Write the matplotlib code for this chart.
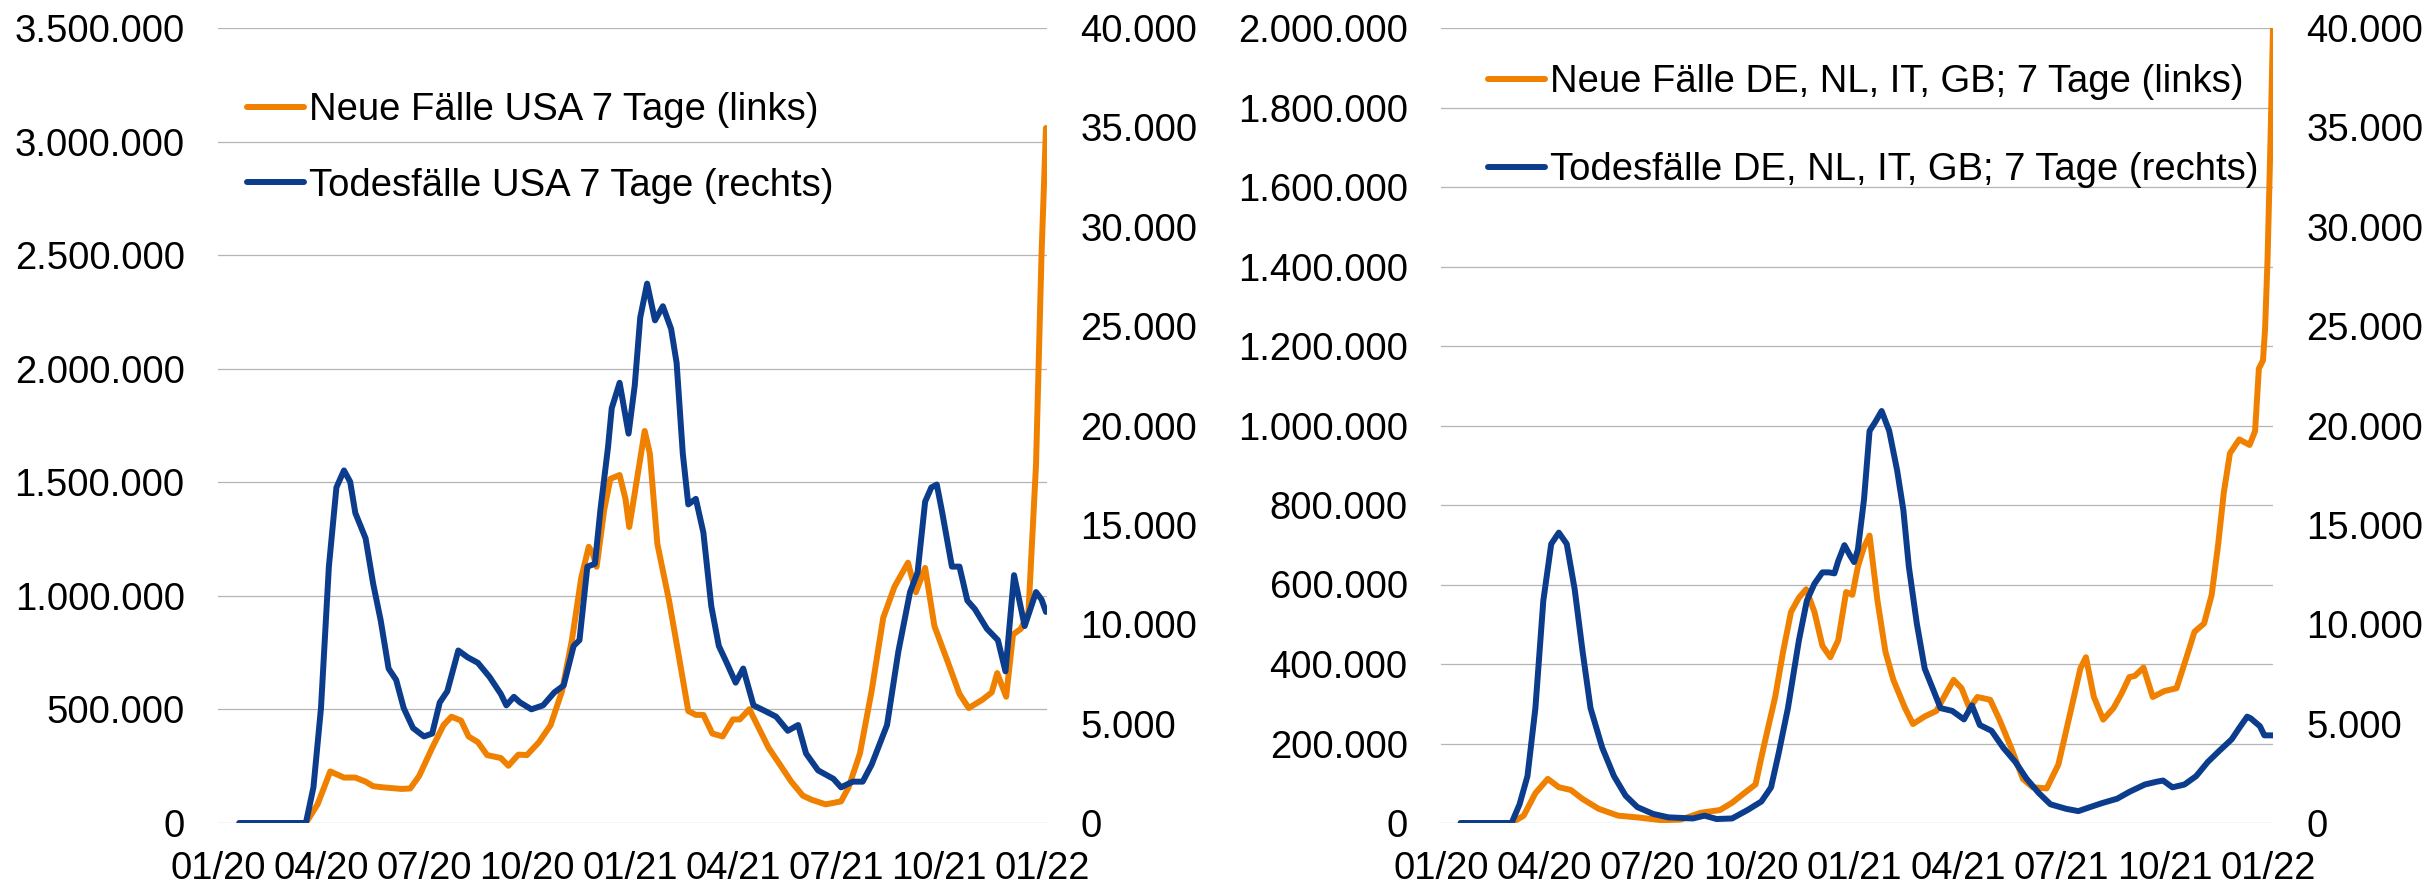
import matplotlib
matplotlib.use("Agg")
from matplotlib import pyplot as plt
from matplotlib.ticker import FuncFormatter, MultipleLocator

plt.rcParams['font.family'] = ['Liberation Sans', 'DejaVu Sans']

# x: Monate seit 01/2020
month_ticks = [0, 3, 6, 9, 12, 15, 18, 21, 24]
month_labels = ["01/20", "04/20", "07/20", "10/20", "01/21", "04/21", "07/21", "10/21", "01/22"]

# USA: neue Fälle 7 Tage (linke Achse)
us_cases_x = [0.62, 2.56, 2.9, 3.27, 3.67, 4.0, 4.3, 4.52, 4.8, 5.35, 5.6, 5.86, 6.24, 6.57, 6.8,
              7.08, 7.3, 7.57, 7.84, 8.24, 8.46, 8.75, 9.0, 9.35, 9.69, 10.02, 10.31, 10.58, 10.8,
              10.91, 11.03, 11.25, 11.43, 11.7, 11.87, 11.98, 12.14, 12.43, 12.58, 12.8, 13.14, 13.43,
              13.7, 13.92, 14.14, 14.4, 14.7, 15.0, 15.2, 15.48, 15.75, 16.04, 16.37, 16.7, 17.04,
              17.3, 17.7, 18.15, 18.37, 18.7, 19.04, 19.38, 19.71, 20.1, 20.33, 20.6, 20.87, 21.27,
              21.6, 21.87, 22.27, 22.54, 22.7, 22.96, 23.16, 23.39, 23.61, 23.83, 23.99, 24.12]
us_cases = [0, 0, 82e3, 227e3, 200e3, 200e3, 182e3, 162e3, 157e3, 150e3, 152e3, 207e3, 331e3, 431e3, 468e3,
            451e3, 381e3, 356e3, 299e3, 286e3, 252e3, 301e3, 299e3, 356e3, 431e3, 580e3, 805e3, 1078e3, 1216e3,
            1190e3, 1128e3, 1378e3, 1515e3, 1532e3, 1427e3, 1303e3, 1452e3, 1726e3, 1627e3, 1228e3, 979e3, 730e3,
            493e3, 476e3, 476e3, 394e3, 381e3, 456e3, 456e3, 501e3, 419e3, 331e3, 257e3, 182e3, 120e3,
            102e3, 82e3, 95e3, 157e3, 306e3, 580e3, 904e3, 1041e3, 1146e3, 1016e3, 1123e3, 867e3, 705e3,
            568e3, 506e3, 543e3, 575e3, 660e3, 556e3, 830e3, 855e3, 929e3, 1577e3, 2500e3, 3060e3]

# USA: Todesfälle 7 Tage (rechte Achse)
us_deaths_x = [0.62, 2.56, 2.78, 3.0, 3.23, 3.45, 3.67, 3.85, 4.0, 4.3, 4.52, 4.74, 4.97, 5.19, 5.41,
               5.68, 6.0, 6.24, 6.46, 6.68, 7.0, 7.27, 7.57, 7.91, 8.24, 8.4, 8.62, 8.8, 9.13, 9.47,
               9.8, 10.07, 10.36, 10.53, 10.76, 10.98, 11.14, 11.36, 11.47, 11.7, 11.96, 12.14, 12.3,
               12.5, 12.73, 12.96, 13.2, 13.36, 13.54, 13.7, 13.92, 14.14, 14.37, 14.59, 14.82, 15.08,
               15.3, 15.6, 15.93, 16.26, 16.6, 16.9, 17.13, 17.48, 17.93, 18.15, 18.49, 18.78, 19.04,
               19.49, 19.82, 20.16, 20.38, 20.6, 20.78, 20.94, 21.1, 21.38, 21.6, 21.83, 22.05, 22.4,
               22.72, 22.94, 23.19, 23.5, 23.83, 23.99, 24.12]
us_deaths = [0, 0, 1794, 5780, 12900, 16885, 17740, 17170, 15600, 14320, 12040, 10190, 7770, 7200, 5780,
             4780, 4355, 4500, 6065, 6630, 8680, 8340, 8060, 7350, 6490, 5920, 6350, 6065, 5720, 5920,
             6575, 6920, 8910, 9200, 12900, 13040, 15750, 18880, 20870, 22150, 19590, 22010, 25430,
             27140, 25290, 26000, 24860, 23150, 18590, 16030, 16310, 14610, 10910, 8910, 8060, 7060,
             7770, 5920, 5640, 5350, 4640, 4930, 3500, 2650, 2220, 1794, 2080, 2080, 2930,
             4930, 8630, 11620, 12610, 16170, 16880, 17030, 15600, 12900, 12900, 11190, 10760, 9770,
             9200, 7630, 12470, 9910, 11620, 11250, 10620]

# DE, NL, IT, GB: neue Fälle 7 Tage (linke Achse)
eu_cases_x = [0.57, 2.05, 2.4, 2.74, 3.1, 3.42, 3.77, 4.1, 4.57, 5.14, 5.71, 6.4, 6.96, 7.53, 8.1,
              8.45, 8.8, 9.13, 9.36, 9.7, 9.93, 10.16, 10.39, 10.6, 10.84, 11.07, 11.3, 11.53, 11.76,
              11.94, 12.1, 12.28, 12.44, 12.67, 12.9, 13.13, 13.47, 13.7, 14.04, 14.38, 14.6, 14.88,
              15.11, 15.34, 15.57, 15.94, 16.21, 16.55, 16.89, 17.17, 17.58, 17.92, 18.26, 18.56,
              18.72, 18.95, 19.22, 19.52, 19.75, 19.98, 20.14, 20.39, 20.66, 21.0, 21.35, 21.64,
              21.87, 22.15, 22.37, 22.56, 22.72, 22.9, 23.17, 23.47, 23.63, 23.74, 23.86, 23.92,
              23.99, 24.08, 24.15]
eu_cases = [0, 0, 18.5e3, 75e3, 111e3, 90e3, 83e3, 61e3, 36e3, 18.5e3, 14e3, 7e3, 8.5e3, 25.6e3, 32.7e3,
            51e3, 75e3, 97e3, 189e3, 317e3, 431e3, 531e3, 567e3, 588e3, 531e3, 446e3, 417e3, 460e3, 581e3,
            574e3, 645e3, 695e3, 723e3, 559e3, 431e3, 360e3, 289e3, 249e3, 268e3, 282e3, 317e3, 360e3,
            339e3, 289e3, 317e3, 310e3, 260e3, 189e3, 111e3, 90e3, 87e3, 147e3, 275e3, 389e3,
            417e3, 317e3, 260e3, 289e3, 325e3, 367e3, 370e3, 391e3, 317e3, 332e3, 339e3, 417e3,
            481e3, 502e3, 574e3, 702e3, 830e3, 930e3, 965e3, 951e3, 986e3, 1143e3, 1164e3, 1243e3,
            1413e3, 1726e3, 2000e3]

# DE, NL, IT, GB: Todesfälle 7 Tage (rechte Achse)
eu_deaths_x = [0.57, 2.05, 2.28, 2.51, 2.74, 2.97, 3.2, 3.42, 3.65, 3.88, 4.11, 4.34, 4.68, 5.02,
               5.36, 5.7, 6.16, 6.6, 7.31, 7.65, 8.0, 8.45, 8.9, 9.3, 9.58, 9.8, 10.07, 10.39, 10.62,
               10.84, 11.07, 11.26, 11.42, 11.53, 11.71, 11.87, 11.99, 12.1, 12.28, 12.44, 12.6, 12.79,
               13.01, 13.24, 13.42, 13.58, 13.81, 14.04, 14.27, 14.5, 14.84, 15.18, 15.41, 15.64,
               15.98, 16.32, 16.67, 17.0, 17.35, 17.69, 18.15, 18.5, 18.84, 19.18, 19.63, 19.98,
               20.43, 20.78, 20.96, 21.23, 21.58, 21.92, 22.26, 22.6, 22.95, 23.17, 23.4, 23.5,
               23.77, 23.9, 24.15]
eu_deaths = [0, 0, 940, 2360, 5780, 11190, 14040, 14610, 14040, 11760, 8630, 5780, 3790, 2360,
             1370, 800, 456, 285, 228, 370, 200, 228, 655, 1082, 1794, 3500, 5780, 9200, 11190,
             12040, 12610, 12610, 12560, 13180, 13980, 13470, 13130, 13750, 16310, 19730, 20160, 20730,
             19730, 17740, 15750, 12900, 10050, 7770, 6780, 5780, 5640, 5210, 5920, 4930,
             4640, 3790, 3075, 2220, 1510, 940, 712, 598, 800, 997, 1225, 1566,
             1936, 2080, 2136, 1794, 1936, 2360, 3075, 3645, 4210, 4780, 5350, 5270,
             4870, 4410, 4410]

orange = "#F08000"
blue = "#0C3C8C"
fs = 27.5


def thousands(v, pos):
    return "{:,}".format(int(round(v))).replace(",", ".")


fig = plt.figure(figsize=(24.27, 8.89), dpi=100)

panels = [
    ([218, 1047], us_cases_x, us_cases, us_deaths_x, us_deaths, 3500000, 500000,
     ["Neue Fälle USA 7 Tage (links)", "Todesfälle USA 7 Tage (rechts)"], (247, 92), 1.04),
    ([1441, 2273], eu_cases_x, eu_cases, eu_deaths_x, eu_deaths, 2000000, 200000,
     ["Neue Fälle DE, NL, IT, GB; 7 Tage (links)", "Todesfälle DE, NL, IT, GB; 7 Tage (rechts)"], (1488, 64), 1.36),
]

for (x0, x1), cx, cy, dx, dy, ymax, ystep, labels, (lx, ly), lspace in panels:
    ax = fig.add_axes([x0 / 2427, 66 / 889, (x1 - x0) / 2427, 795 / 889])
    ax2 = ax.twinx()

    l1, = ax.plot(cx, cy, color=orange, lw=4.3, solid_capstyle="round", solid_joinstyle="round")
    l2, = ax2.plot(dx, dy, color=blue, lw=4.3, solid_capstyle="round", solid_joinstyle="round")

    ax.set_xlim(0, 24.15)
    ax.set_ylim(0, ymax)
    ax.yaxis.set_major_locator(MultipleLocator(ystep))
    ax.yaxis.set_major_formatter(FuncFormatter(thousands))
    ax2.set_ylim(0, 40000)
    ax2.yaxis.set_major_locator(MultipleLocator(5000))
    ax2.yaxis.set_major_formatter(FuncFormatter(thousands))

    ax.set_xticks(month_ticks)
    ax.set_xticklabels(month_labels)

    ax.grid(axis="y", color="#b4b4b4", lw=0.9)
    ax.set_axisbelow(True)
    for a in (ax, ax2):
        for s in a.spines.values():
            s.set_visible(False)
    ax.tick_params(axis="y", length=0, pad=24, labelsize=fs)
    ax.tick_params(axis="x", length=0, pad=20, labelsize=fs)
    ax2.tick_params(axis="y", length=0, pad=24, labelsize=fs)

    ax2.legend([l1, l2], labels, loc="upper left",
               bbox_to_anchor=(lx / 2427, 1 - ly / 889), bbox_transform=fig.transFigure,
               frameon=False, fontsize=fs, borderpad=0, borderaxespad=0,
               handlelength=1.5, handletextpad=0.12, labelspacing=lspace)

plt.savefig("out.png", dpi=100)
